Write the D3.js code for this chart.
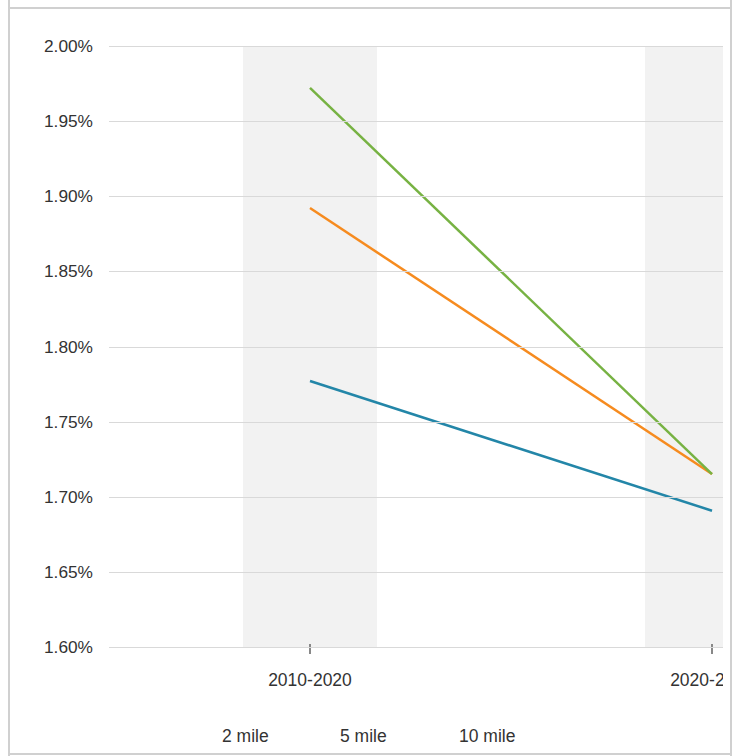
<!DOCTYPE html>
<html><head><meta charset="utf-8">
<script src="https://cdn.jsdelivr.net/npm/d3@7"></script>
<style>
html,body{margin:0;padding:0;background:#fff;}
svg{display:block;font-family:"Liberation Sans",Arial,Helvetica,sans-serif;}
</style></head>
<body>
<svg id="c" width="734" height="756"></svg>
<script>
const categories = ["2010-2020", "2020-2030"];
const seriesNames = ["2 mile", "5 mile", "10 mile"];
const series2mile = [1.777, 1.6907];
const series5mile = [1.8922, 1.7151];
const series10mile = [1.9721, 1.7151];
const yTicks = [1.60, 1.65, 1.70, 1.75, 1.80, 1.85, 1.90, 1.95, 2.00];
const colors = ["#2386a8", "#f68b1f", "#77b243"];

const svg = d3.select("#c");
const plotLeft = 109, plotRight = 723, plotTop = 46, plotBottom = 647;
const step = 402;

// frame
svg.append("line").attr("x1",9).attr("x2",9).attr("y1",0).attr("y2",756).attr("stroke","#d0d0d0").attr("stroke-width",2);
svg.append("line").attr("x1",731).attr("x2",731).attr("y1",0).attr("y2",756).attr("stroke","#d0d0d0").attr("stroke-width",2);
svg.append("line").attr("x1",9).attr("x2",731).attr("y1",8).attr("y2",8).attr("stroke","#d0d0d0").attr("stroke-width",2);
svg.append("line").attr("x1",9).attr("x2",731).attr("y1",754).attr("y2",754).attr("stroke","#d0d0d0").attr("stroke-width",2);

const x = d3.scaleBand().domain(categories).range([plotLeft, plotLeft + step*categories.length]).padding(0);
const y = d3.scaleLinear().domain([1.60, 2.00]).range([plotBottom, plotTop]);

svg.append("defs").append("clipPath").attr("id","clip")
  .append("rect").attr("x",plotLeft).attr("y",0).attr("width",plotRight-plotLeft).attr("height",756);

const g = svg.append("g").attr("clip-path","url(#clip)");

// bands
g.selectAll("rect.band").data(categories).join("rect")
  .attr("class","band")
  .attr("x", d => x(d) + x.bandwidth()/2 - x.bandwidth()/6)
  .attr("width", x.bandwidth()/3)
  .attr("y", plotTop+1).attr("height", plotBottom - plotTop - 1)
  .attr("fill","#f2f2f2");

// gridlines
svg.selectAll("line.grid").data(yTicks).join("line")
  .attr("class","grid")
  .attr("x1",plotLeft).attr("x2",plotRight)
  .attr("y1",d=>Math.round(y(d))+0.5).attr("y2",d=>Math.round(y(d))+0.5)
  .attr("stroke","#d9d9d9").attr("stroke-width",1);

// y axis labels
svg.selectAll("text.ylab").data(yTicks).join("text")
  .attr("class","ylab")
  .attr("x",93).attr("y",d=>y(d)+6)
  .attr("text-anchor","end").attr("font-size",17.3).attr("fill","#333")
  .text(d=>d3.format(".2f")(d)+"%");

// x ticks and labels
const xc = d => x(d) + x.bandwidth()/2;
g.selectAll("line.xt").data(categories).join("line")
  .attr("class","xt")
  .attr("x1",xc).attr("x2",xc).attr("y1",plotBottom-3).attr("y2",plotBottom+7)
  .attr("stroke","#888").attr("stroke-width",2);
g.selectAll("text.xl").data(categories).join("text")
  .attr("class","xl")
  .attr("x",xc).attr("y",686)
  .attr("text-anchor","middle").attr("font-size",17.5).attr("fill","#333")
  .text(d=>d);

// lines
const allSeries = [series2mile, series5mile, series10mile];
const line = d3.line().x((d,i)=>xc(categories[i])).y(d=>y(d));
g.selectAll("path.s").data(allSeries).join("path")
  .attr("class","s")
  .attr("d", line)
  .attr("fill","none")
  .attr("stroke",(d,i)=>colors[i])
  .attr("stroke-width",2.5);

// legend
const legendX = [222, 340, 459];
svg.selectAll("text.leg").data(seriesNames).join("text")
  .attr("class","leg")
  .attr("x",(d,i)=>legendX[i]).attr("y",742)
  .attr("font-size",17.5).attr("fill","#333")
  .text(d=>d);
</script>
</body></html>
